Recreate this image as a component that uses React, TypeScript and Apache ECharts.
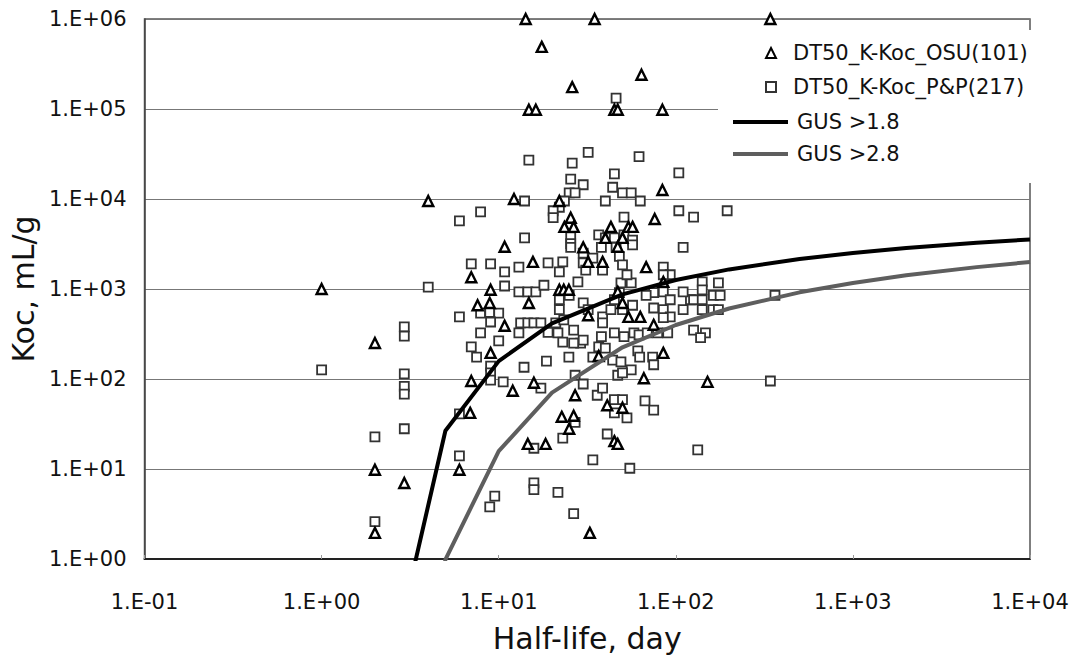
import React, { useEffect, useRef } from "react";
import * as echarts from "echarts";

// Half-life (day), Koc (mL/g)
const osuPoints: number[][] = [
  [4.0, 9500], [1.0, 1000], [2.0, 251], [2.0, 9.8], [2.0, 1.95], [2.93, 7], [7.0, 1350], [9.0, 980],
  [22, 980], [23.3, 980], [24.9, 980], [32, 510], [14.8, 700], [10.8, 390], [7.6, 660], [8.9, 700],
  [9.0, 195], [7.0, 95], [12, 74], [15.8, 91], [27, 66], [22.7, 38], [26.5, 39], [25, 28],
  [14.6, 19], [18.4, 19], [32.7, 1.95], [6.0, 9.8], [6.9, 42], [54, 490], [63, 490], [75, 400],
  [36.7, 180], [85, 195], [66, 102], [41, 51], [50, 48], [45, 20.4], [47, 19], [151, 93],
  [50, 700], [47, 930], [85, 1200], [14.2, 1e6], [34.8, 1e6], [17.5, 490000], [64, 240000], [26, 175000],
  [14.8, 98000], [16.2, 98000], [45, 98000], [47, 98000], [84, 98000], [12.2, 10000], [22, 9500], [84, 12600],
  [76, 6000], [25.5, 6200], [23.5, 4900], [26.5, 4900], [43, 4900], [54, 4900], [57, 4900], [40, 3700], [50, 3700],
  [10.8, 2950], [30, 2900], [68, 1750], [32, 2000], [38.6, 2000], [15.6, 2000], [342, 1e6], [47, 2950],
];

const ppPoints: number[][] = [
  [4.0, 1050], [1.0, 126], [2.0, 22.7], [2.0, 2.6], [2.93, 380], [2.93, 300], [2.93, 114], [2.93, 83],
  [2.93, 68], [2.93, 28], [10.8, 1080], [13, 930], [14.6, 930], [16.2, 930], [18, 1100], [28, 1200],
  [22, 760], [22, 590], [25, 850], [30, 700], [32, 590], [21, 420], [19, 330], [21.6, 325],
  [23.3, 455], [26.5, 350], [13.3, 420], [14.6, 420], [15.8, 420], [17.3, 420], [13, 325], [7.9, 540],
  [8.9, 550], [10, 540], [9, 430], [6, 490], [7.9, 325], [10, 265], [7, 228], [7.5, 175],
  [9, 139], [9, 117], [9, 97], [10.6, 93], [13.9, 135], [18.6, 158], [24.9, 175], [17.3, 79],
  [27, 110], [30, 88], [27, 33], [23, 22], [15.8, 17], [34, 12.6], [55, 10.2], [15.8, 7],
  [15.8, 5.9], [21.6, 5.5], [26.5, 3.2], [9.5, 5], [8.9, 3.8], [6, 14], [6, 41], [38.6, 490],
  [38.6, 420], [38, 295], [45, 325], [51, 295], [58, 325], [62, 310], [69, 325], [79, 325],
  [90, 325], [61, 205], [62.5, 175], [74, 175], [75, 144], [29, 251], [30, 270], [34, 175],
  [36.7, 228], [40, 220], [44, 162], [49, 155], [56, 126], [47, 110], [50, 117], [36, 66],
  [38.6, 79], [45, 59], [50, 59], [45, 42], [53, 37], [67, 57], [75, 45], [41, 24.5],
  [133, 16.3], [126, 350], [147, 325], [138, 288], [110, 590], [121, 760], [126, 760], [141, 760],
  [141, 590], [162, 590], [174, 590], [141, 1200], [141, 980], [174, 1170], [163, 850], [178, 850],
  [110, 930], [75, 910], [85, 930], [93, 760], [85, 590], [93, 490], [85, 480], [68, 850],
  [75, 615], [45, 760], [43, 590], [50, 590], [57, 660], [49, 1170], [56, 1170], [48, 910],
  [46, 132000], [32, 33000], [14.8, 27000], [62, 29500], [26, 25000], [45, 19000], [104, 19500], [25.5, 16600],
  [30, 14400], [25, 11700], [27, 11700], [44, 13500], [50, 11700], [56, 11700], [40, 9500], [63, 9500],
  [14, 9500], [195, 7400], [23.5, 9500], [22, 8100], [20.3, 7400], [20.3, 6200], [6, 5700], [7.9, 7200],
  [104, 7400], [126, 6300], [51, 6300], [14, 3700], [36.7, 4000], [40, 3700], [45, 3700], [51, 4000],
  [57, 3500], [57, 3100], [25.5, 3800], [25.5, 3200], [25.5, 2900], [38, 2900], [46, 2900], [48, 2300],
  [110, 2900], [30, 2500], [34, 2200], [30, 1950], [50, 1850], [38.6, 1660], [7, 1900], [9, 1900],
  [10.8, 1550], [13, 1750], [19, 1950], [23, 2000], [22, 1550], [31, 1620], [38.6, 1620], [53, 1440],
  [85, 1750], [93, 1440], [85, 1440], [363, 850], [342, 95], [23, 257], [26.5, 251],
];

const halfLife: number[] = [2, 5, 10, 20, 50, 100, 200, 500, 1000, 2000, 5000, 10000];
const gus18Koc: number[] = [0.0105, 26.6, 158, 414, 873, 1259, 1651, 2153, 2512, 2850, 3260, 3548];
const gus28Koc: number[] = [0.000005, 0.986, 15.8, 70.5, 225, 398, 607, 918, 1166, 1418, 1750, 1995];

const seriesNames = ["DT50_K-Koc_OSU(101)", "DT50_K-Koc_P&P(217)", "GUS >1.8", "GUS >2.8"];

const FONT = "DejaVu Sans";

function logLabel(v: number): string {
  const e = Math.round(Math.log10(v));
  const s = String(Math.abs(e)).padStart(2, "0");
  return "1.E" + (e < 0 ? "-" : "+") + s;
}

export default function App() {
  const ref = useRef<HTMLDivElement>(null);
  useEffect(() => {
    if (!ref.current) return;
    const chart = echarts.init(ref.current, null, { renderer: "svg" });
    const line = (ks: number[]) => halfLife.map((t, i) => [t, ks[i]]);
    chart.setOption({
      animation: false,
      backgroundColor: "#ffffff",
      textStyle: { fontFamily: FONT },
      grid: {
        left: 143,
        right: 43,
        top: 19,
        bottom: 100,
        show: true,
        borderColor: "#555",
        borderWidth: 1.5,
        backgroundColor: "transparent",
      },
      legend: [
        {
          orient: "vertical",
          left: 718,
          top: 30,
          padding: [12, 12, 0, 47],
          backgroundColor: "#ffffff",
          itemWidth: 10,
          itemHeight: 10,
          itemGap: 12,
          data: [seriesNames[0], seriesNames[1]],
          textStyle: { fontSize: 21, color: "#111", fontFamily: FONT, lineHeight: 22, padding: [0, 0, 0, 12] },
        },
        {
          orient: "vertical",
          left: 718,
          top: 98,
          padding: [13, 147, 18, 15],
          backgroundColor: "#ffffff",
          itemWidth: 55,
          itemHeight: 4,
          itemGap: 10,
          icon: "rect",
          data: [seriesNames[2], seriesNames[3]],
          textStyle: { fontSize: 21, color: "#111", fontFamily: FONT, lineHeight: 22, padding: [0, 0, 0, 4] },
        },
      ],
      xAxis: {
        type: "log",
        logBase: 10,
        min: 0.1,
        max: 10000,
        name: "Half-life, day",
        nameLocation: "middle",
        nameGap: 64,
        nameTextStyle: { fontSize: 30, color: "#111", fontFamily: FONT },
        axisLine: { show: true, lineStyle: { color: "#222", width: 2 } },
        axisTick: { show: true, inside: true, length: 4, lineStyle: { color: "#999" } },
        minorTick: { show: false },
        splitLine: { show: false },
        axisLabel: { formatter: logLabel, fontSize: 21, color: "#111", margin: 32, fontFamily: FONT },
      },
      yAxis: {
        type: "log",
        logBase: 10,
        min: 1,
        max: 1000000,
        name: "Koc, mL/g",
        nameLocation: "middle",
        nameGap: 100,
        nameTextStyle: { fontSize: 30, color: "#111", fontFamily: FONT },
        axisLine: { show: true, lineStyle: { color: "#444", width: 1.5 } },
        axisTick: { show: false },
        splitLine: { show: true, lineStyle: { color: "#777", width: 1 } },
        axisLabel: { formatter: logLabel, fontSize: 21, color: "#111", margin: 18, fontFamily: FONT },
      },
      series: [
        {
          name: seriesNames[0],
          type: "scatter",
          symbol: "triangle",
          symbolSize: 10,
          data: osuPoints,
          itemStyle: { color: "#ffffff", borderColor: "#000", borderWidth: 2.4, opacity: 1 },
          z: 4,
        },
        {
          name: seriesNames[1],
          type: "scatter",
          symbol: "rect",
          symbolSize: 9,
          data: ppPoints,
          itemStyle: { color: "#ffffff", borderColor: "#333", borderWidth: 1.8, opacity: 1 },
          z: 3,
        },
        {
          name: seriesNames[2],
          type: "line",
          symbol: "none",
          data: line(gus18Koc),
          lineStyle: { color: "#000", width: 4 },
          itemStyle: { color: "#000" },
          clip: true,
          z: 5,
        },
        {
          name: seriesNames[3],
          type: "line",
          symbol: "none",
          data: line(gus28Koc),
          lineStyle: { color: "#5e5e5e", width: 4 },
          itemStyle: { color: "#5e5e5e" },
          clip: true,
          z: 5,
        },
      ],
    });
    return () => chart.dispose();
  }, []);
  return (
    <div
      ref={ref}
      style={{ position: "fixed", left: 0, top: 0, width: 1073, height: 659, background: "#fff" }}
    />
  );
}
